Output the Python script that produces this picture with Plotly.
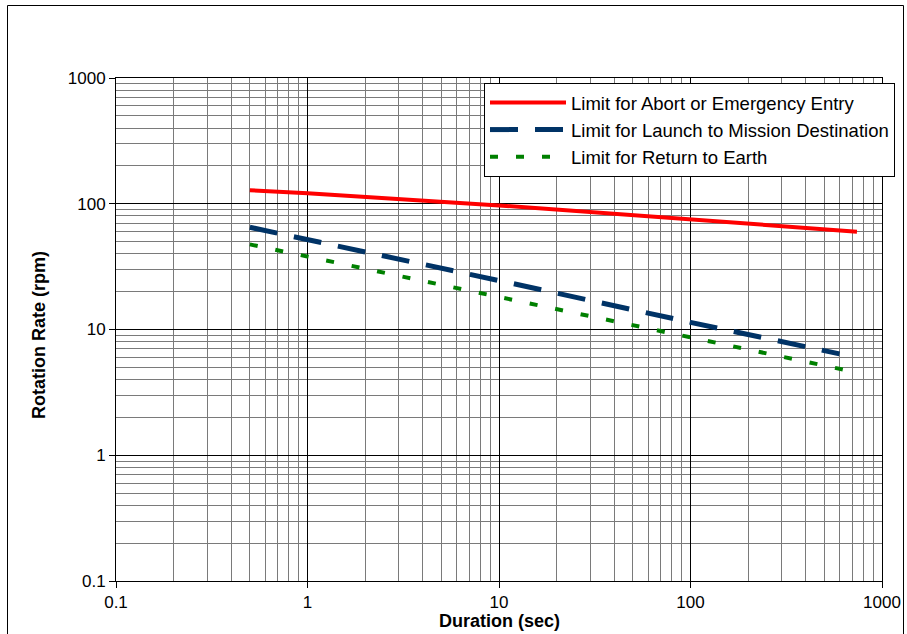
import plotly.graph_objects as go

# Durations (sec) and rotation-rate limits (rpm)
abort_x = [0.5, 1, 10, 100, 740]
abort_y = [128, 121, 97, 75, 60]

launch_x = [0.5, 1, 10, 100, 600]
launch_y = [65, 52, 24.5, 11.4, 6.4]

return_x = [0.5, 1, 10, 100, 670]
return_y = [47.5, 38, 18, 8.6, 4.7]

tick_vals = [0.1, 1, 10, 100, 1000]
tick_text = ["0.1", "1", "10", "100", "1000"]

W, H = 907, 634
PL, PR, PT, PB = 116, 882, 78, 581   # plot box in page pixels
L, R, T, B = PL, W - PR, PT, H - PB

fig = go.Figure()
fig.add_trace(go.Scatter(x=abort_x, y=abort_y, mode="lines",
                         name="Limit for Abort or Emergency Entry",
                         line=dict(color="#ff0000", width=4)))
fig.add_trace(go.Scatter(x=launch_x, y=launch_y, mode="lines",
                         name="Limit for Launch to Mission Destination",
                         line=dict(color="#003366", width=5, dash="28px,17px")))
fig.add_trace(go.Scatter(x=return_x, y=return_y, mode="lines",
                         name="Limit for Return to Earth",
                         line=dict(color="#008000", width=4, dash="8px,18px")))

font = "Liberation Sans, Arial, sans-serif"
axis_common = dict(
    type="log",
    tickvals=tick_vals, ticktext=tick_text,
    showgrid=True, gridcolor="#000000", gridwidth=1,
    minor=dict(dtick="D1", showgrid=True, gridcolor="#7a7a7a", gridwidth=1.3, ticks=""),
    ticks="outside", ticklen=6, tickcolor="#000000",
    showline=True, linecolor="#000000", linewidth=1, mirror=True,
    zeroline=False,
    tickfont=dict(family=font, size=17, color="#000000"),
)
fig.update_xaxes(range=[-1, 3], **axis_common)
fig.update_yaxes(range=[-1, 3], **axis_common)

pw = W - L - R
ph = H - T - B
def px(x):
    return (x - L) / pw
def py(y):
    return (H - B - y) / ph

fig.add_shape(type="rect", xref="paper", yref="paper",
              x0=px(7.5), x1=px(903.5), y0=py(660), y1=py(5.5),
              line=dict(color="#000000", width=1), layer="below")

fig.add_annotation(text="<b>Duration (sec)</b>", xref="paper", yref="paper",
                   x=px(500), y=py(621), xanchor="center", yanchor="middle",
                   showarrow=False, font=dict(family=font, size=18, color="#000000"))
fig.add_annotation(text="<b>Rotation Rate (rpm)</b>", xref="paper", yref="paper",
                   x=px(39), y=py(335), xanchor="center", yanchor="middle",
                   textangle=-90,
                   showarrow=False, font=dict(family=font, size=18, color="#000000"))

fig.update_layout(
    width=W, height=H,
    margin=dict(l=L, r=R, t=T, b=B, autoexpand=False),
    paper_bgcolor="#ffffff", plot_bgcolor="#ffffff",
    showlegend=True,
    legend=dict(x=px(484), y=py(83), xanchor="left", yanchor="top",
                bgcolor="#ffffff", bordercolor="#000000", borderwidth=1,
                font=dict(family=font, size=18.5, color="#000000"),
                tracegroupgap=0, itemwidth=76),
    font=dict(family=font, color="#000000"),
)

fig.write_html("out.html",
               config={"displayModeBar": False},
               post_script="document.body.style.margin='0';"
                           "document.body.style.overflow='hidden';")
